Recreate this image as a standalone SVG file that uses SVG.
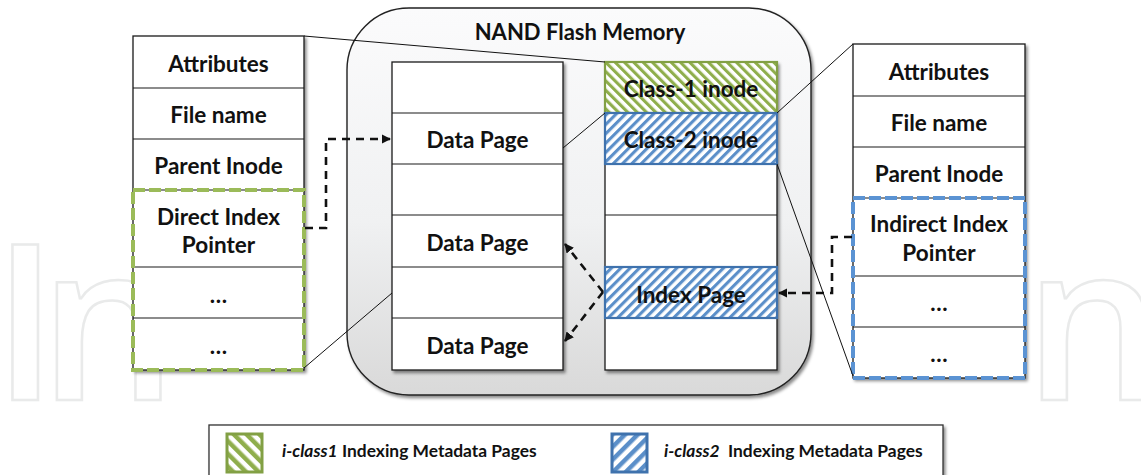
<svg xmlns="http://www.w3.org/2000/svg" width="1141" height="475" viewBox="0 0 1141 475">
<defs>
<style>
.t{font-family:Lato,"Liberation Sans",sans-serif;font-weight:700;font-size:22.5px;text-anchor:middle;fill:#111}
.lg{font-family:Lato,"Liberation Sans",sans-serif;font-weight:700;font-size:17.4px;fill:#111}
.cell{fill:#fff;stroke:#1a1a1a;stroke-width:1.3}
.row{stroke:#1a1a1a;stroke-width:1.2}
.thin{fill:none;stroke:#111;stroke-width:1}
.dash{fill:none;stroke:#111;stroke-width:2.6;stroke-dasharray:8 6}
.wm{font-family:"Open Sans",sans-serif;font-weight:600;font-size:218px;fill:#fff;stroke:#e9eaea;stroke-width:2.5}
</style>
<filter id="sh" x="-10%" y="-10%" width="125%" height="125%">
<feDropShadow dx="2" dy="2.5" stdDeviation="1.6" flood-color="#000" flood-opacity="0.45"/>
</filter>
<linearGradient id="nandG" x1="0" y1="0" x2="0" y2="1">
<stop offset="0" stop-color="#fbfbfc"/>
<stop offset="0.55" stop-color="#f0f1f2"/>
<stop offset="1" stop-color="#d9d9d9"/>
</linearGradient>
<pattern id="hG" patternUnits="userSpaceOnUse" width="6.6" height="6.6" patternTransform="rotate(-45)">
<rect width="6.6" height="6.6" fill="#fff"/><rect width="3.1" height="6.6" fill="#8fae4c"/>
</pattern>
<pattern id="hB" patternUnits="userSpaceOnUse" width="6.6" height="6.6" patternTransform="rotate(45)">
<rect width="6.6" height="6.6" fill="#fff"/><rect width="3.1" height="6.6" fill="#5b8fc9"/>
</pattern>
<pattern id="hGL" patternUnits="userSpaceOnUse" width="9" height="9" patternTransform="rotate(-45)">
<rect width="9" height="9" fill="#fff"/><rect width="4.5" height="9" fill="#8fae4c"/>
</pattern>
<pattern id="hBL" patternUnits="userSpaceOnUse" width="9" height="9" patternTransform="rotate(45)">
<rect width="9" height="9" fill="#fff"/><rect width="4.5" height="9" fill="#5b8fc9"/>
</pattern>
<marker id="ah" viewBox="0 0 10 10" refX="9" refY="5" markerWidth="3.6" markerHeight="3.6" orient="auto" markerUnits="strokeWidth">
<path d="M0,0 L10,5 L0,10 z" fill="#111"/>
</marker>
</defs>

<rect width="1141" height="475" fill="#fff"/>

<g id="watermark">
<text class="wm" x="-8" y="400">I<tspan x="39">n</tspan></text>
<text class="wm" x="1024" y="400">n</text>
</g>

<g id="nand-flash">
<rect x="347" y="8" width="464" height="387" rx="62" ry="62" fill="url(#nandG)" stroke="#222" stroke-width="1.4" filter="url(#sh)"/>
<text class="t" x="580" y="40" style="font-size:22px">NAND Flash Memory</text>
</g>

<g id="data-column">
<rect class="cell" x="392" y="62" width="171" height="308" filter="url(#sh)"/>
<path class="row" d="M392,113H563M392,164H563M392,215H563M392,267H563M392,318H563"/>
<text class="t" x="477.5" y="148">Data Page</text>
<text class="t" x="477.5" y="251">Data Page</text>
<text class="t" x="477.5" y="354">Data Page</text>
</g>

<g id="metadata-column">
<rect class="cell" x="605" y="62" width="172" height="308" filter="url(#sh)"/>
<rect x="605" y="62" width="172" height="51" fill="url(#hG)" stroke="#82a044" stroke-width="2.2"/>
<rect x="605" y="113" width="172" height="51" fill="url(#hB)" stroke="#3f72ad" stroke-width="2.2"/>
<path class="row" d="M605,215H777"/>
<rect x="605" y="267" width="172" height="51" fill="url(#hB)" stroke="#3f72ad" stroke-width="2.2"/>
<text class="t" x="691" y="97">Class-1 inode</text>
<text class="t" x="691" y="148">Class-2 inode</text>
<text class="t" x="691" y="303">Index Page</text>
</g>

<g id="class1-inode">
<rect class="cell" x="133" y="36" width="171" height="334" filter="url(#sh)"/>
<path class="row" d="M133,88H304M133,139H304M133,190H304M133,267H304M133,318H304"/>
<rect x="133" y="190" width="171" height="180" fill="none" stroke="#9bbb59" stroke-width="4" stroke-dasharray="12 4"/>
<text class="t" x="218.5" y="72">Attributes</text>
<text class="t" x="218.5" y="123">File name</text>
<text class="t" x="218.5" y="174">Parent Inode</text>
<text class="t" x="218.5" y="225">Direct Index</text>
<text class="t" x="218.5" y="253">Pointer</text>
<text class="t" x="218.5" y="303">…</text>
<text class="t" x="218.5" y="354">…</text>
</g>

<g id="class2-inode">
<rect class="cell" x="853" y="44" width="172" height="334" filter="url(#sh)"/>
<path class="row" d="M853,96H1025M853,147H1025M853,198H1025M853,276H1025M853,327H1025"/>
<rect x="853" y="198" width="172" height="180" fill="none" stroke="#5b93d3" stroke-width="4" stroke-dasharray="12 4"/>
<text class="t" x="939" y="80">Attributes</text>
<text class="t" x="939" y="131">File name</text>
<text class="t" x="939" y="182">Parent Inode</text>
<text class="t" x="939" y="232">Indirect Index</text>
<text class="t" x="939" y="261">Pointer</text>
<text class="t" x="939" y="311">…</text>
<text class="t" x="939" y="362">…</text>
</g>

<g id="connectors">
<path class="thin" d="M304,36L605,62"/>
<path class="thin" d="M304,368L392,293"/>
<path class="thin" d="M563,148L605,113"/>
<path class="thin" d="M777,113L853,44"/>
<path class="thin" d="M777,164L853,376"/>
<path class="dash" d="M305,228H326V139H390" marker-end="url(#ah)"/>
<path class="dash" d="M603,292L565,244" marker-end="url(#ah)"/>
<path class="dash" d="M603,292L565,341" marker-end="url(#ah)"/>
<path class="dash" d="M852,237H832V293H779" marker-end="url(#ah)"/>
</g>

<g id="legend">
<rect x="209" y="425" width="734" height="70" fill="#fff" stroke="#333" stroke-width="1.3" filter="url(#sh)"/>
<rect x="227" y="434" width="35" height="38" fill="url(#hGL)" stroke="#82a044" stroke-width="3"/>
<text class="lg" x="282" y="457"><tspan font-style="italic">i-class1</tspan><tspan x="342">Indexing Metadata Pages</tspan></text>
<rect x="612" y="434" width="35" height="38" fill="url(#hBL)" stroke="#3f72ad" stroke-width="3"/>
<text class="lg" x="664" y="457"><tspan font-style="italic">i-class2</tspan><tspan x="728">Indexing Metadata Pages</tspan></text>
</g>
</svg>
